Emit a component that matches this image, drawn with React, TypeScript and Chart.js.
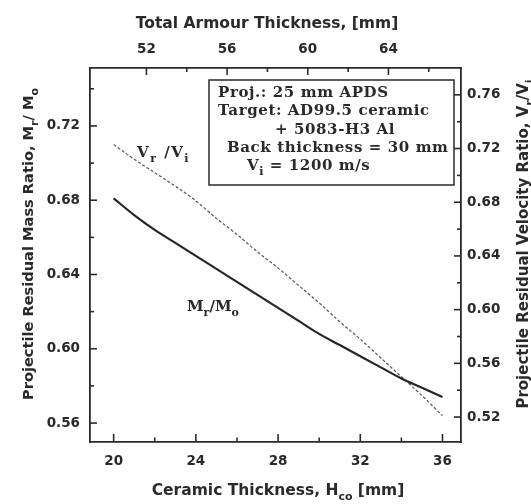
import { useEffect, useRef } from "react";
import { Chart, registerables } from "chart.js";

Chart.register(...registerables);

// Ceramic front-plate thickness, mm
const ceramicThickness = [20, 21, 22, 23, 24, 25, 26, 27, 28, 29, 30, 31, 32, 33, 34, 35, 36];
// Residual mass ratio Mr/Mo (left axis)
const massRatio = [0.681, 0.672, 0.664, 0.657, 0.650, 0.643, 0.636, 0.629, 0.622, 0.615, 0.608, 0.602, 0.596, 0.590, 0.584, 0.579, 0.574];
// Residual velocity ratio Vr/Vi (right axis)
const velocityRatio = [0.723, 0.712, 0.702, 0.692, 0.681, 0.668, 0.656, 0.643, 0.631, 0.618, 0.605, 0.591, 0.578, 0.564, 0.550, 0.536, 0.521];

const ceramicTicks = [20, 24, 28, 32, 36];
const ceramicMinorTicks = [22, 26, 30, 34];
const totalTicks = [52, 56, 60, 64];
const totalMinorTicks = [54, 58, 62, 66];
const massTicks = [0.56, 0.6, 0.64, 0.68, 0.72];
const massMinorTicks = [0.58, 0.62, 0.66, 0.7, 0.74];
const velocityTicks = [0.52, 0.56, 0.6, 0.64, 0.68, 0.72, 0.76];
const velocityMinorTicks = [0.54, 0.58, 0.62, 0.66, 0.7, 0.74];

type Run = { t: string; sub?: boolean };

const infoLines: Run[][] = [
  [{ t: "Proj.: 25 mm APDS" }],
  [{ t: "Target: AD99.5 ceramic" }],
  [{ t: "+ 5083-H3 Al" }],
  [{ t: "Back thickness = 30 mm" }],
  [{ t: "V" }, { t: "i", sub: true }, { t: " = 1200 m/s" }],
];

const ink = "#2a2a2a";
const sans = "'DejaVu Sans', sans-serif";
const serif = "'DejaVu Serif', serif";

function drawRich(
  ctx: CanvasRenderingContext2D,
  runs: Run[],
  x: number,
  y: number,
  size: number,
  family: string,
  align: "left" | "center",
  rotation = 0,
  weight = "bold",
  spacing = 0
) {
  ctx.save();
  ctx.translate(x, y);
  ctx.rotate(rotation);
  (ctx as any).letterSpacing = `${spacing}px`;
  const main = `${weight} ${size}px ${family}`;
  const small = `${weight} ${Math.round(size * 0.72)}px ${family}`;
  let total = 0;
  for (const r of runs) {
    ctx.font = r.sub ? small : main;
    total += ctx.measureText(r.t).width;
  }
  let cx = align === "center" ? -total / 2 : 0;
  ctx.textBaseline = "alphabetic";
  ctx.textAlign = "left";
  ctx.fillStyle = ink;
  for (const r of runs) {
    ctx.font = r.sub ? small : main;
    ctx.fillText(r.t, cx, r.sub ? size * 0.32 : 0);
    cx += ctx.measureText(r.t).width;
  }
  ctx.restore();
}

const decorations = {
  id: "decorations",
  afterDraw(chart: any) {
    const { ctx, chartArea, scales } = chart;
    const { left, right, top, bottom } = chartArea;
    ctx.save();
    ctx.strokeStyle = ink;
    ctx.lineWidth = 1.6;

    const tick = (x1: number, y1: number, x2: number, y2: number) => {
      ctx.beginPath();
      ctx.moveTo(x1, y1);
      ctx.lineTo(x2, y2);
      ctx.stroke();
    };

    // inward tick marks on all four sides
    ceramicTicks.forEach((v) => { const p = scales.x.getPixelForValue(v); tick(p, bottom, p, bottom - 8); });
    ceramicMinorTicks.forEach((v) => { const p = scales.x.getPixelForValue(v); tick(p, bottom, p, bottom - 4.5); });
    totalTicks.forEach((v) => { const p = scales.xTop.getPixelForValue(v); tick(p, top, p, top + 7); });
    totalMinorTicks.forEach((v) => { const p = scales.xTop.getPixelForValue(v); tick(p, top, p, top + 4); });
    massTicks.forEach((v) => { const p = scales.yMass.getPixelForValue(v); tick(left, p, left + 7, p); });
    massMinorTicks.forEach((v) => { const p = scales.yMass.getPixelForValue(v); tick(left, p, left + 4, p); });
    velocityTicks.forEach((v) => { const p = scales.yVel.getPixelForValue(v); tick(right, p, right - 7, p); });
    velocityMinorTicks.forEach((v) => { const p = scales.yVel.getPixelForValue(v); tick(right, p, right - 4, p); });

    // information box
    const bx = left + 119;
    const by = top + 12;
    const bw = right - 7 - bx;
    const bh = 105;
    ctx.lineWidth = 1.5;
    ctx.strokeRect(bx, by, bw, bh);
    const lineX = [bx + 9, bx + 9, bx + 66, bx + 18, bx + 38];
    infoLines.forEach((runs, i) => {
      drawRich(ctx, runs, lineX[i], by + 17 + i * 18.3, 15, serif, "left", 0, "bold", 0.6);
    });

    // curve labels
    drawRich(ctx, [{ t: "V" }, { t: "r", sub: true }, { t: " /V" }, { t: "i", sub: true }], left + 47, top + 89, 15, serif, "left", 0, "bold", 1.5);
    drawRich(ctx, [{ t: "M" }, { t: "r", sub: true }, { t: "/M" }, { t: "o", sub: true }], left + 97, top + 243, 15, serif, "left", 0, "bold");

    // axis titles
    drawRich(ctx, [{ t: "Total Armour Thickness, [mm]" }], 267, 28, 15.5, sans, "center");
    drawRich(ctx, [{ t: "Ceramic Thickness, H" }, { t: "co", sub: true }, { t: " [mm]" }], 278, 495, 15.5, sans, "center");
    drawRich(ctx, [{ t: "Projectile Residual Mass Ratio, M" }, { t: "r", sub: true }, { t: "/ M" }, { t: "o", sub: true }], 33, 244, 14.6, sans, "center", -Math.PI / 2);
    drawRich(ctx, [{ t: "Projectile Residual Velocity Ratio, V" }, { t: "r", sub: true }, { t: "/V" }, { t: "i", sub: true }], 528, 244, 15, sans, "center", -Math.PI / 2);
    ctx.restore();
  },
};

const tickFont = { family: sans, weight: "bold" as const, size: 13.5 };

function axis(extra: any) {
  return {
    type: "linear",
    grid: { display: false, drawTicks: false },
    border: { display: true, color: ink, width: 1.8 },
    ...extra,
    ticks: { color: ink, font: tickFont, autoSkip: false, maxRotation: 0, ...extra.ticks },
  };
}

export default function App() {
  const ref = useRef<HTMLCanvasElement | null>(null);

  useEffect(() => {
    if (!ref.current) return;
    const chart = new Chart(ref.current, {
      type: "line",
      data: {
        datasets: [
          {
            label: "Mr/Mo",
            data: ceramicThickness.map((c, i) => ({ x: c, y: massRatio[i] })),
            xAxisID: "x",
            yAxisID: "yMass",
            borderColor: "#262626",
            borderWidth: 2.2,
            pointRadius: 0,
            cubicInterpolationMode: "monotone",
          },
          {
            label: "Vr/Vi",
            data: ceramicThickness.map((c, i) => ({ x: c, y: velocityRatio[i] })),
            xAxisID: "x",
            yAxisID: "yVel",
            borderColor: "#555555",
            borderWidth: 1.2,
            borderDash: [3, 2],
            pointRadius: 0,
            cubicInterpolationMode: "monotone",
          },
        ],
      },
      options: {
        animation: false,
        responsive: false,
        devicePixelRatio: 1,
        layout: { padding: 0, autoPadding: false },
        plugins: { legend: { display: false }, tooltip: { enabled: false } },
        scales: {
          x: axis({
            position: "bottom",
            min: 18.85,
            max: 36.9,
            afterBuildTicks: (s: any) => { s.ticks = ceramicTicks.map((v) => ({ value: v })); },
            afterFit: (s: any) => { s.height = 62; },
            ticks: { padding: 11, callback: (v: any) => String(v) },
          }),
          xTop: axis({
            position: "top",
            min: 49.2,
            max: 67.6,
            afterBuildTicks: (s: any) => { s.ticks = totalTicks.map((v) => ({ value: v })); },
            afterFit: (s: any) => { s.height = 68; },
            ticks: { padding: 10, callback: (v: any) => String(v) },
          }),
          yMass: axis({
            position: "left",
            min: 0.5498,
            max: 0.7512,
            afterBuildTicks: (s: any) => { s.ticks = massTicks.map((v) => ({ value: v })); },
            afterFit: (s: any) => { s.width = 90; },
            ticks: { padding: 10, callback: (v: any) => Number(v).toFixed(2) },
          }),
          yVel: axis({
            position: "right",
            min: 0.5014,
            max: 0.78,
            afterBuildTicks: (s: any) => { s.ticks = velocityTicks.map((v) => ({ value: v })); },
            afterFit: (s: any) => { s.width = 70; },
            ticks: { padding: 6, callback: (v: any) => Number(v).toFixed(2) },
          }),
        },
      } as any,
      plugins: [decorations],
    });
    return () => chart.destroy();
  }, []);

  return (
    <div style={{ position: "fixed", left: 0, top: 0, width: 531, height: 504, background: "#ffffff" }}>
      <canvas ref={ref} width={531} height={504} style={{ width: 531, height: 504, display: "block" }} />
    </div>
  );
}
